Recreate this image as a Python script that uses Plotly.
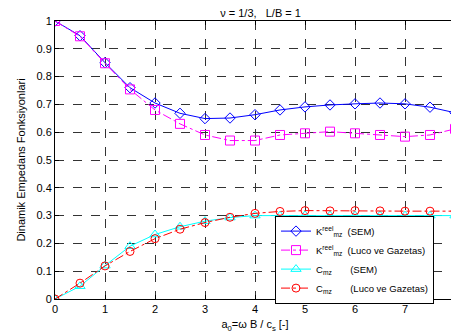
import plotly.graph_objects as go

a0 = [0, 0.5, 1, 1.5, 2, 2.5, 3, 3.5, 4, 4.5, 5, 5.5, 6, 6.5, 7, 7.5, 8]
k_sem = [1.0, 0.947, 0.850, 0.760, 0.705, 0.668, 0.649, 0.651, 0.663, 0.680, 0.691, 0.698, 0.702, 0.705, 0.702, 0.690, 0.670]
k_luco = [1.0, 0.945, 0.848, 0.754, 0.680, 0.630, 0.590, 0.570, 0.570, 0.590, 0.596, 0.602, 0.596, 0.590, 0.584, 0.590, 0.612]
c_sem = [0.0, 0.046, 0.120, 0.190, 0.232, 0.260, 0.280, 0.293, 0.300, 0.300, 0.301, 0.300, 0.300, 0.300, 0.300, 0.300, 0.300]
c_luco = [0.0, 0.057, 0.119, 0.171, 0.217, 0.251, 0.275, 0.294, 0.308, 0.315, 0.318, 0.317, 0.318, 0.317, 0.316, 0.316, 0.316]

names = [
    "K<sup>reel</sup><sub>mz</sub>  (SEM)",
    "K<sup>reel</sup><sub>mz</sub>  (Luco ve Gazetas)",
    "C<sub>mz</sub>       (SEM)",
    "C<sub>mz</sub>       (Luco ve Gazetas)",
]

fig = go.Figure()
fig.add_trace(go.Scatter(x=a0, y=k_sem, name=names[0], mode="lines+markers",
                         line=dict(color="#0000ff", width=1),
                         marker=dict(symbol="diamond-open", size=8, color="#0000ff", line=dict(width=1))))
fig.add_trace(go.Scatter(x=a0, y=k_luco, name=names[1], mode="lines+markers",
                         line=dict(color="#ff00ff", width=1, dash="dashdot"),
                         marker=dict(symbol="square-open", size=9, color="#ff00ff", line=dict(width=1))))
fig.add_trace(go.Scatter(x=a0, y=c_sem, name=names[2], mode="lines+markers",
                         line=dict(color="#00ffff", width=1),
                         marker=dict(symbol="triangle-up-open", size=9, color="#00ffff", line=dict(width=1))))
fig.add_trace(go.Scatter(x=a0, y=c_luco, name=names[3], mode="lines+markers",
                         line=dict(color="#ff0000", width=1, dash="dashdot"),
                         marker=dict(symbol="circle-open", size=8, color="#ff0000", line=dict(width=1))))

axis_common = dict(showline=True, linecolor="black", linewidth=1, mirror="ticks",
                   ticks="inside", ticklen=4, tickcolor="black",
                   showgrid=True, gridcolor="#333333", griddash="dash", gridwidth=1,
                   zeroline=False, tickfont=dict(size=11, color="black"), automargin=False)

fig.update_xaxes(range=[0, 8], tickvals=list(range(9)), ticktext=[str(i) for i in range(9)],
                 title=dict(text="a<sub>0</sub>=ω B / c<sub>s</sub> [-]", font=dict(size=11, color="black"), standoff=6),
                 **axis_common)
fig.update_yaxes(range=[0, 1], tickvals=[0, 0.1, 0.2, 0.3, 0.4, 0.5, 0.6, 0.7, 0.8, 0.9, 1],
                 ticktext=["0", "0.1", "0.2", "0.3", "0.4", "0.5", "0.6", "0.7", "0.8", "0.9", "1"],
                 title=dict(text="Dinamik Empedans Fonksiyonlari", font=dict(size=11, color="black"), standoff=8),
                 **axis_common)

# the page body adds an 8px offset; size the figure so the plot area lands where the reference's does
fig.update_layout(
    width=451, height=325,
    margin=dict(l=47, r=4, t=13, b=34),
    paper_bgcolor="white", plot_bgcolor="white",
    font=dict(family="Liberation Sans, Arial, sans-serif", size=11, color="black"),
    title=dict(text="ν = 1/3,   L/B = 1", x=0.56, xanchor="center", y=0.995, yanchor="top",
               font=dict(size=11, color="black")),
    legend=dict(x=0.55, y=0.30, xanchor="left", yanchor="top", bgcolor="white",
                bordercolor="black", borderwidth=1, font=dict(size=9.5, color="black"),
                tracegroupgap=0, itemwidth=30),
    showlegend=True,
)

fig.write_html("out.html")
